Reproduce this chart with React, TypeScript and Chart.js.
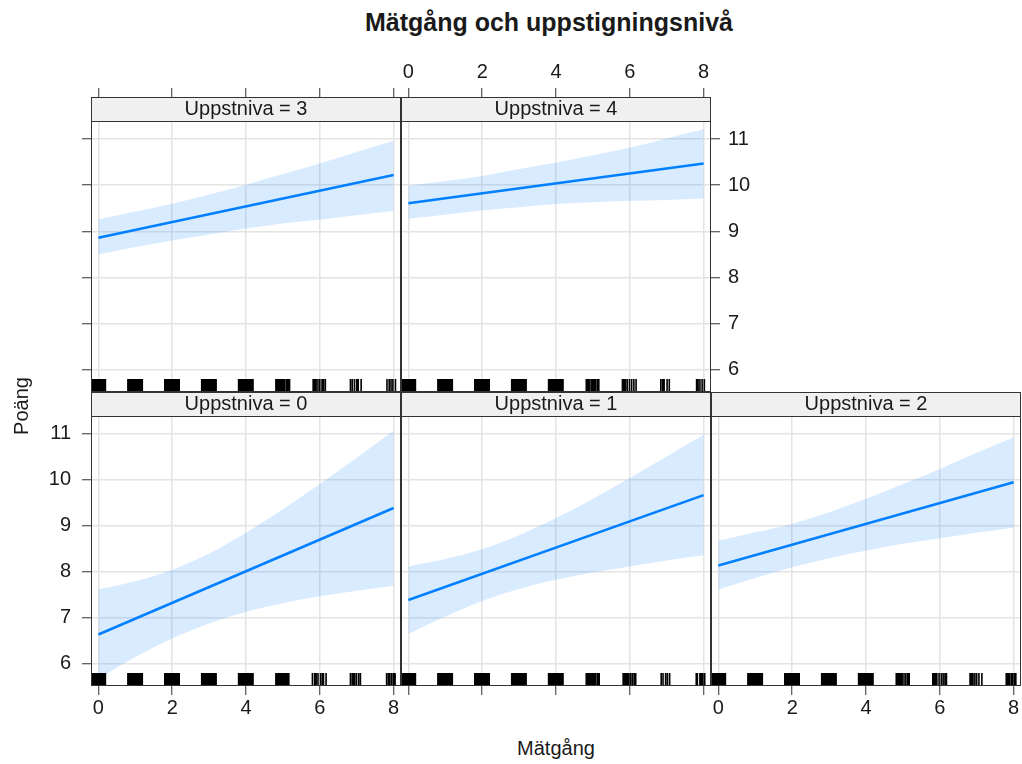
import React, { useEffect, useRef } from "react";
import { Chart, registerables } from "chart.js";

Chart.register(...registerables);

const FONT = "'Liberation Sans', Arial, Helvetica, sans-serif";

// ---- text ----
const mainTitle = "Mätgång och uppstigningsnivå";
const xTitle = "Mätgång";
const yTitle = "Poäng";

// ---- ticks ----
const xTickValues = [0, 2, 4, 6, 8];
const yTickValues = [6, 7, 8, 9, 10, 11];

// ---- effect data ----
const bandX = [0, 1, 2, 3, 4, 5, 6, 7, 8];
const fitX = [0, 8];

const fit0 = [6.64, 9.39];
const upper0 = [7.62, 7.8, 8.05, 8.4, 8.85, 9.36, 9.91, 10.48, 11.07];
const lower0 = [5.68, 6.15, 6.55, 6.88, 7.13, 7.32, 7.47, 7.59, 7.7];

const fit1 = [7.39, 9.67];
const upper1 = [8.12, 8.28, 8.5, 8.8, 9.17, 9.59, 10.04, 10.51, 10.98];
const lower1 = [6.65, 7.03, 7.37, 7.63, 7.83, 7.99, 8.12, 8.25, 8.36];

const fit2 = [8.14, 9.95];
const upper2 = [8.68, 8.86, 9.05, 9.3, 9.59, 9.91, 10.24, 10.59, 10.93];
const lower2 = [7.62, 7.87, 8.1, 8.3, 8.46, 8.61, 8.73, 8.85, 8.96];

const fit3 = [8.86, 10.22];
const upper3 = [9.26, 9.43, 9.6, 9.8, 10.01, 10.24, 10.47, 10.72, 10.96];
const lower3 = [8.5, 8.66, 8.8, 8.93, 9.06, 9.17, 9.25, 9.35, 9.44];

const fit4 = [9.61, 10.47];
const upper4 = [9.99, 10.09, 10.2, 10.35, 10.49, 10.65, 10.81, 11.01, 11.21];
const lower4 = [9.27, 9.36, 9.45, 9.52, 9.59, 9.63, 9.66, 9.68, 9.71];

// ---- rug (jittered observed Mätgång values) ----
const rugLevels = [0, 1, 2, 3, 4];
const rugOffsets = [-0.2, -0.17, -0.14, -0.11, -0.08, -0.05, -0.02, 0.01, 0.04, 0.07, 0.1, 0.13, 0.16, 0.19];
const rugTail0 = [4.81, 4.84, 4.87, 4.9, 4.94, 4.97, 5.01, 5.05, 5.08, 5.12, 5.16, 5.8, 5.86, 5.9, 5.95, 6.02, 6.07, 6.1, 6.17, 6.83, 6.88, 6.91, 6.94, 6.99, 7.05, 7.1, 7.81, 7.86, 7.9, 7.95, 8.0, 8.04];
const rugTail1 = [4.82, 4.85, 4.88, 4.92, 4.96, 5.0, 5.04, 5.08, 5.13, 5.17, 5.82, 5.85, 5.89, 5.93, 5.97, 6.02, 6.07, 6.12, 6.16, 6.85, 6.9, 6.97, 7.02, 7.08, 7.8, 7.83, 7.9, 7.94, 7.98, 8.03];
const rugTail2 = [4.82, 4.86, 4.9, 4.94, 4.98, 5.03, 5.08, 5.13, 5.17, 5.81, 5.85, 5.88, 5.92, 5.98, 6.04, 6.09, 6.14, 6.18, 6.82, 6.86, 6.9, 6.95, 7.0, 7.06, 7.14, 7.8, 7.84, 7.88, 7.93, 7.97, 8.02, 8.06];
const rugTail3 = [4.81, 4.85, 4.89, 4.93, 4.97, 5.01, 5.05, 5.1, 5.14, 5.18, 5.82, 5.86, 5.9, 5.95, 6.0, 6.06, 6.1, 6.15, 6.83, 6.88, 6.94, 7.0, 7.04, 7.12, 7.82, 7.88, 7.93, 7.98, 8.05];
const rugTail4 = [4.82, 4.86, 4.9, 4.95, 4.99, 5.03, 5.07, 5.12, 5.16, 5.8, 5.84, 5.88, 5.93, 5.99, 6.05, 6.11, 6.17, 6.84, 6.89, 6.93, 7.01, 7.07, 7.81, 7.85, 7.9, 7.96, 8.02];

// ---- strip labels ----
const stripLabels = ["Uppstniva = 0", "Uppstniva = 1", "Uppstniva = 2", "Uppstniva = 3", "Uppstniva = 4"];

// ---- styling / geometry (not data) ----
const LINE_COLOR = "#0080ff";
const BAND_COLOR = "rgba(0,128,255,0.15)";
const GRID_COLOR = "#e4e4e4";
const FRAME_COLOR = "#333333";
const TEXT_COLOR = "#1a1a1a";
const COLS = [91, 401, 711];
const PANEL_W = 310;
const ROWS = { top: { stripTop: 97, plotBottom: 392 }, bottom: { stripTop: 392, plotBottom: 686 } };
const PAD = 3;
const TICK = 9;
const X_MIN = -0.2;
const X_MAX = 8.2;
const Y_MIN = 5.52;
const Y_MAX = 11.39;

type PanelSpec = {
  label: string;
  col: number;
  row: "top" | "bottom";
  fit: number[];
  upper: number[];
  lower: number[];
  rugTail: number[];
  xPos: "top" | "bottom";
  xLabels: boolean;
  yPos: "left" | "right" | null;
  yLabels: boolean;
};

const panels: PanelSpec[] = [
  { label: stripLabels[0], col: 0, row: "bottom", fit: fit0, upper: upper0, lower: lower0, rugTail: rugTail0, xPos: "bottom", xLabels: true, yPos: "left", yLabels: true },
  { label: stripLabels[1], col: 1, row: "bottom", fit: fit1, upper: upper1, lower: lower1, rugTail: rugTail1, xPos: "bottom", xLabels: false, yPos: null, yLabels: false },
  { label: stripLabels[2], col: 2, row: "bottom", fit: fit2, upper: upper2, lower: lower2, rugTail: rugTail2, xPos: "bottom", xLabels: true, yPos: null, yLabels: false },
  { label: stripLabels[3], col: 0, row: "top", fit: fit3, upper: upper3, lower: lower3, rugTail: rugTail3, xPos: "top", xLabels: false, yPos: "left", yLabels: false },
  { label: stripLabels[4], col: 1, row: "top", fit: fit4, upper: upper4, lower: lower4, rugTail: rugTail4, xPos: "top", xLabels: true, yPos: "right", yLabels: true },
];

const stripPlugin = {
  id: "stripBg",
  beforeDraw(chart: any) {
    const t = chart.titleBlock;
    const ca = chart.chartArea;
    if (!t) return;
    const ctx = chart.ctx;
    ctx.save();
    ctx.fillStyle = "#f0f0f0";
    ctx.fillRect(ca.left, t.top, ca.right - ca.left, ca.top - t.top);
    ctx.restore();
  },
  afterDraw(chart: any) {
    const t = chart.titleBlock;
    const ca = chart.chartArea;
    const ctx = chart.ctx;
    ctx.save();
    ctx.strokeStyle = FRAME_COLOR;
    ctx.lineWidth = 1;
    const l = Math.round(ca.left) + 0.5;
    const r = Math.round(ca.right) - 0.5;
    const top = Math.round(t ? t.top : ca.top) + 0.5;
    const mid = Math.round(ca.top) + 0.5;
    const b = Math.round(ca.bottom) - 0.5;
    ctx.strokeRect(l, top, r - l, b - top);
    ctx.beginPath();
    ctx.moveTo(l, mid);
    ctx.lineTo(r, mid);
    ctx.stroke();
    ctx.restore();
  },
};

const rugPlugin = {
  id: "rug",
  afterDatasetsDraw(chart: any, _args: any, opts: any) {
    const values: number[] = opts.values || [];
    const xs = chart.scales.x;
    const ca = chart.chartArea;
    const ctx = chart.ctx;
    ctx.save();
    ctx.beginPath();
    ctx.rect(ca.left, ca.top, ca.right - ca.left, ca.bottom - ca.top);
    ctx.clip();
    ctx.strokeStyle = "#000";
    ctx.lineWidth = 1.6;
    ctx.beginPath();
    for (const v of values) {
      const px = xs.getPixelForValue(v);
      ctx.moveTo(px, ca.bottom);
      ctx.lineTo(px, ca.bottom - 13);
    }
    ctx.stroke();
    ctx.restore();
  },
};

function zeroPadding(s: any) {
  s.paddingTop = 0;
  s.paddingBottom = 0;
  s.paddingLeft = 0;
  s.paddingRight = 0;
}

function Panel({ spec }: { spec: PanelSpec }) {
  const ref = useRef<HTMLCanvasElement>(null);
  const row = ROWS[spec.row];
  const xH = spec.xLabels ? 40 : TICK;
  const yW = spec.yPos ? (spec.yLabels ? 60 : TICK) : 0;
  const leftExtra = spec.yPos === "left" ? yW : 0;
  const rightExtra = spec.yPos === "right" ? yW : 0;
  const topExtra = spec.xPos === "top" ? xH : 0;
  const bottomExtra = spec.xPos === "bottom" ? xH : 0;
  const left = COLS[spec.col] - leftExtra - PAD;
  const top = row.stripTop - topExtra - PAD;
  const width = leftExtra + PANEL_W + rightExtra + 2 * PAD;
  const height = topExtra + (row.plotBottom - row.stripTop) + bottomExtra + 2 * PAD;

  useEffect(() => {
    if (!ref.current) return;
    const rug: number[] = [];
    for (const lv of rugLevels) for (const o of rugOffsets) rug.push(lv + o);
    rug.push(...spec.rugTail);

    const chart = new Chart(ref.current, {
      type: "line",
      data: {
        datasets: [
          {
            data: bandX.map((x, i) => ({ x, y: spec.lower[i] })),
            borderWidth: 0,
            borderColor: "rgba(0,0,0,0)",
            pointRadius: 0,
            fill: false,
            cubicInterpolationMode: "monotone",
          },
          {
            data: bandX.map((x, i) => ({ x, y: spec.upper[i] })),
            borderWidth: 0,
            borderColor: "rgba(0,0,0,0)",
            backgroundColor: BAND_COLOR,
            pointRadius: 0,
            fill: "-1",
            cubicInterpolationMode: "monotone",
          },
          {
            data: fitX.map((x, i) => ({ x, y: spec.fit[i] })),
            borderWidth: 2.5,
            borderColor: LINE_COLOR,
            pointRadius: 0,
            fill: false,
          },
        ],
      } as any,
      options: {
        animation: false,
        responsive: false,
        maintainAspectRatio: false,
        events: [],
        layout: { padding: PAD, autoPadding: false } as any,
        plugins: {
          legend: { display: false },
          tooltip: { enabled: false },
          title: {
            display: true,
            text: spec.label,
            position: "top",
            fullSize: false,
            padding: 0,
            color: TEXT_COLOR,
            font: { family: FONT, size: 20, weight: "normal", lineHeight: 1.2 },
          } as any,
          rug: { values: rug },
        } as any,
        scales: {
          x: {
            type: "linear",
            position: spec.xPos,
            weight: 3000,
            min: X_MIN,
            max: X_MAX,
            afterBuildTicks: (s: any) => {
              s.ticks = xTickValues.map((v) => ({ value: v }));
            },
            afterFit: (s: any) => {
              s.height = xH;
              zeroPadding(s);
            },
            border: { display: false },
            grid: {
              color: GRID_COLOR,
              lineWidth: 1.5,
              drawTicks: true,
              tickLength: TICK,
              tickColor: FRAME_COLOR,
              tickWidth: 1,
            },
            ticks: {
              display: spec.xLabels,
              autoSkip: false,
              maxRotation: 0,
              padding: spec.xPos === "top" ? 4 : 1,
              color: TEXT_COLOR,
              font: { family: FONT, size: 20 },
            },
          },
          y: {
            type: "linear",
            position: spec.yPos || "left",
            min: Y_MIN,
            max: Y_MAX,
            afterBuildTicks: (s: any) => {
              s.ticks = yTickValues.map((v) => ({ value: v }));
            },
            afterFit: (s: any) => {
              s.width = yW;
              zeroPadding(s);
            },
            border: { display: false },
            grid: {
              color: GRID_COLOR,
              lineWidth: 1.5,
              drawTicks: !!spec.yPos,
              tickLength: TICK,
              tickColor: FRAME_COLOR,
              tickWidth: 1,
            },
            ticks: {
              display: spec.yLabels,
              autoSkip: false,
              padding: spec.yPos === "right" ? 8 : 11,
              color: TEXT_COLOR,
              font: { family: FONT, size: 20 },
            },
          },
        } as any,
      },
      plugins: [stripPlugin, rugPlugin],
    });
    return () => chart.destroy();
  }, []);

  return (
    <canvas
      ref={ref}
      width={width}
      height={height}
      style={{ position: "absolute", left, top, width, height }}
    />
  );
}

export default function App() {
  return (
    <div
      style={{
        position: "fixed",
        left: 0,
        top: 0,
        width: 1022,
        height: 764,
        overflow: "hidden",
        background: "#fff",
        fontFamily: FONT,
        color: TEXT_COLOR,
      }}
    >
      <div
        style={{
          position: "absolute",
          left: 299,
          top: 7,
          width: 500,
          height: 30,
          lineHeight: "30px",
          textAlign: "center",
          fontSize: 25,
          fontWeight: "bold",
          whiteSpace: "nowrap",
        }}
      >
        {mainTitle}
      </div>
      {panels.map((p, i) => (
        <Panel key={i} spec={p} />
      ))}
      <div
        style={{
          position: "absolute",
          left: 456,
          top: 736,
          width: 200,
          height: 24,
          lineHeight: "24px",
          textAlign: "center",
          fontSize: 20,
          whiteSpace: "nowrap",
        }}
      >
        {xTitle}
      </div>
      <div
        style={{
          position: "absolute",
          left: -29,
          top: 394,
          width: 100,
          height: 24,
          lineHeight: "24px",
          textAlign: "center",
          fontSize: 20,
          whiteSpace: "nowrap",
          transform: "rotate(-90deg)",
        }}
      >
        {yTitle}
      </div>
    </div>
  );
}
